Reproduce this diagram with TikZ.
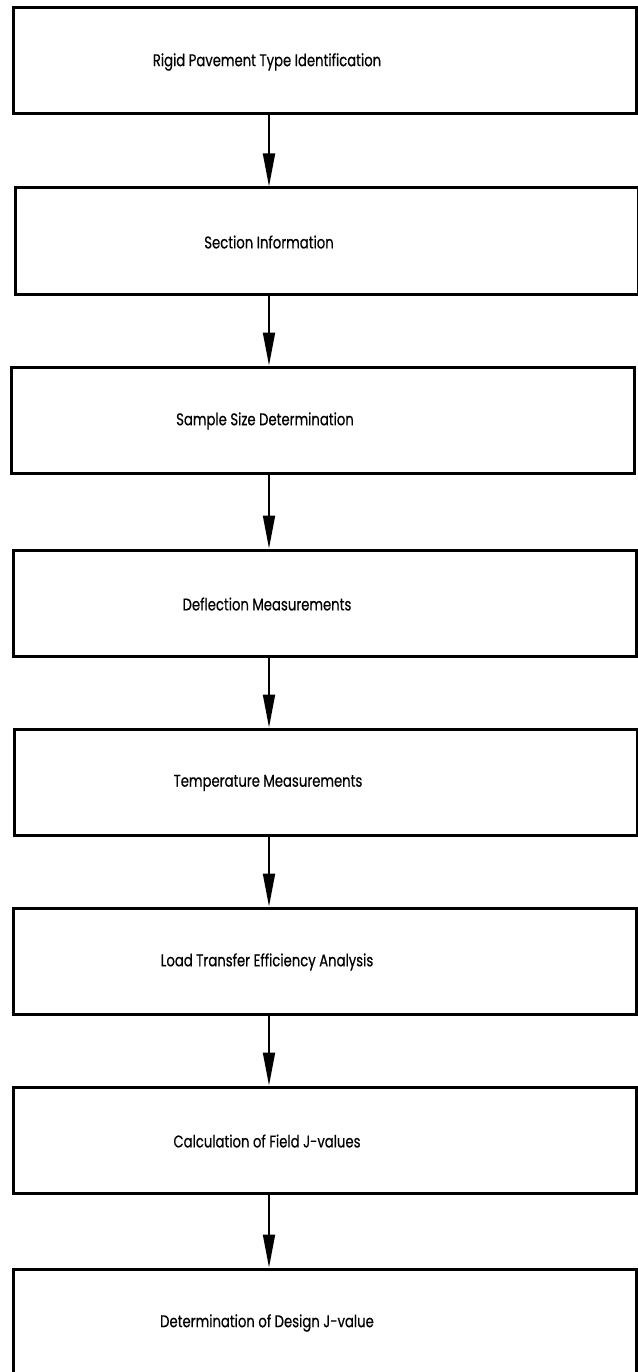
\documentclass[tikz,border=0pt]{standalone}
\usepackage{fontspec}
\usetikzlibrary{arrows.meta}
\newfontfamily\stepfont[FakeStretch=0.78,FakeBold=0.5]{Poppins}

\begin{document}
\begin{tikzpicture}
[
x=1bp,y=-1bp,
stage/.style={draw,line width=3bp,minimum width=622bp,minimum height=106bp,
              inner sep=0pt,label={[font=\stepfont\fontsize{17}{20}\selectfont,xshift=-58bp,yshift=-1bp]center:#1}},
flow/.style={line width=1.8bp,-{Triangle[length=33bp,width=12bp]}},
]
\useasboundingbox (0,0) rectangle (638,1372);

%Place the boxes
\node[stage={Rigid Pavement Type Identification}] (s1) at (325,61) {};
\node[stage={Section Information}] (s2) at (327,241) {};
\node[stage={Sample Size Determination}] (s3) at (323,420) {};
\node[stage={Deflection Measurements}] (s4) at (325,603) {};
\node[stage={Temperature Measurements}] (s5) at (326,782) {};
\node[stage={Load Transfer Efficiency Analysis}] (s6) at (325,961) {};
\node[stage={Calculation of Field J-values}] (s7) at (325,1140) {};
\node[stage={Determination of Design J-value}] (s8) at (325,1322) {};
\coordinate (axis) at (269,0);
%Draw the connections
\foreach \a/\b in {s1/s2,s2/s3,s3/s4,s4/s5,s5/s6,s6/s7,s7/s8}
  \draw[flow] (\a.south -| axis) -- (\b.north -| axis);
\end{tikzpicture}
\end{document}
